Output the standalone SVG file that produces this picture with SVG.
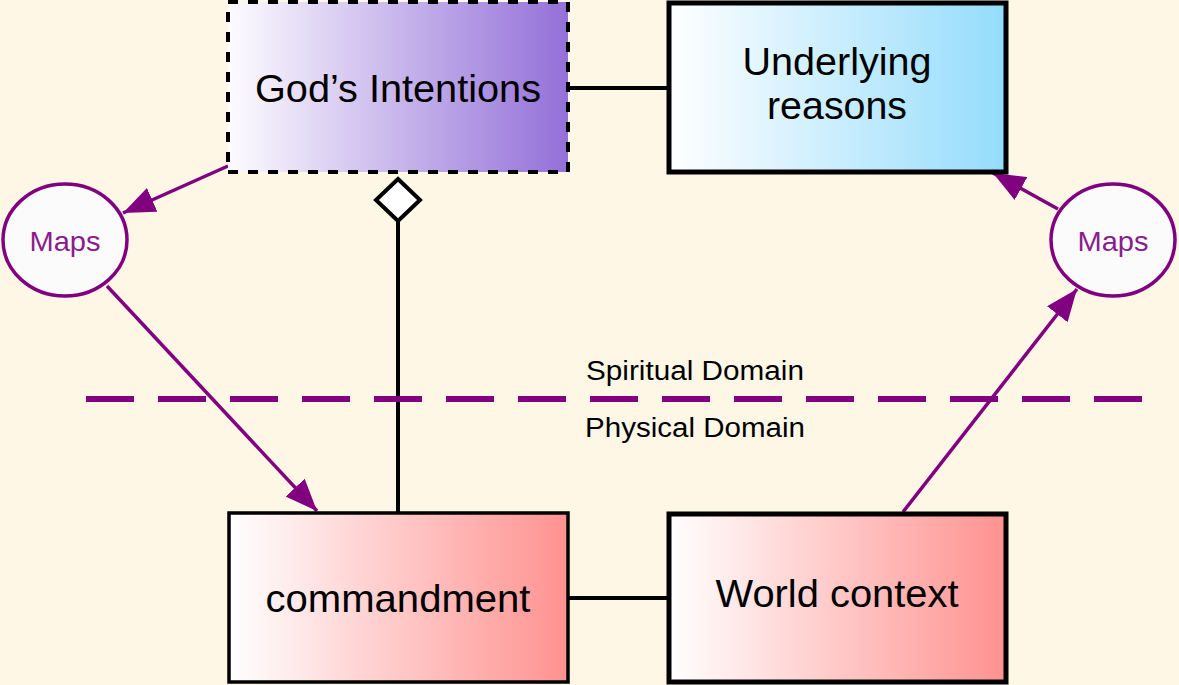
<svg xmlns="http://www.w3.org/2000/svg" width="1179" height="685" viewBox="0 0 1179 685">
<defs>
<linearGradient id="gPurple" x1="0" y1="0" x2="1" y2="0">
<stop offset="0" stop-color="#fdfcff"/>
<stop offset="1" stop-color="#9370d8"/>
</linearGradient>
<linearGradient id="gBlue" x1="0" y1="0" x2="1" y2="0">
<stop offset="0" stop-color="#ffffff"/>
<stop offset="1" stop-color="#94dcfc"/>
</linearGradient>
<linearGradient id="gRed" x1="0" y1="0" x2="1" y2="0">
<stop offset="0" stop-color="#ffffff"/>
<stop offset="1" stop-color="#ff9290"/>
</linearGradient>
<marker id="arr" viewBox="0 0 32 26" refX="32" refY="13" markerWidth="32" markerHeight="26" markerUnits="userSpaceOnUse" orient="auto">
<path d="M0,0 L32,13 L0,26 z" fill="#800080"/>
</marker>
<style>
.lbl{font-family:"Liberation Sans",Arial,sans-serif;font-size:39px;fill:#000;text-anchor:middle}
.maps{font-family:"Liberation Sans",Arial,sans-serif;font-size:28px;fill:#8b1c8b;text-anchor:middle}
.dom{font-family:"Liberation Sans",Arial,sans-serif;font-size:27px;fill:#000;text-anchor:middle}
.ell{fill:#fbfbfc;stroke:#800080;stroke-width:3.5}
.pl{stroke:#800080;stroke-width:3.5;fill:none;marker-end:url(#arr)}
.bl{stroke:#000;stroke-width:4;fill:none}
</style>
</defs>
<rect x="0" y="0" width="1179" height="685" fill="#fef7e6"/>

<g id="connectors">
<line class="bl" x1="568" y1="88" x2="668" y2="88"/>
<line class="bl" x1="568" y1="598" x2="667" y2="598"/>
<line class="bl" x1="398" y1="512" x2="398" y2="222"/>
<polygon points="398,179 420,200 398,221 376,200" fill="#fff" stroke="#000" stroke-width="4"/>
<line class="pl" x1="228" y1="166" x2="123" y2="213"/>
<line class="pl" x1="107" y1="286" x2="317" y2="511"/>
<line class="pl" x1="903" y1="512" x2="1077" y2="289"/>
<line class="pl" x1="1058" y1="209" x2="993" y2="173"/>
</g>

<g id="domain-divider">
<line x1="86" y1="399" x2="1142" y2="399" stroke="#800080" stroke-width="6" stroke-dasharray="48 24"/>
<text class="dom" x="695" y="380" textLength="218" lengthAdjust="spacingAndGlyphs">Spiritual Domain</text>
<text class="dom" x="695" y="437" textLength="220" lengthAdjust="spacingAndGlyphs">Physical Domain</text>
</g>

<g id="gods-intentions">
<rect x="228" y="2" width="340" height="170" fill="url(#gPurple)" stroke="#000" stroke-width="4" stroke-dasharray="10 10"/>
<text class="lbl" x="398" y="102" textLength="286" lengthAdjust="spacingAndGlyphs">God’s Intentions</text>
</g>

<g id="underlying-reasons">
<rect x="669" y="3" width="337" height="169" fill="url(#gBlue)" stroke="#000" stroke-width="5"/>
<text class="lbl" x="837" y="75" textLength="189" lengthAdjust="spacingAndGlyphs">Underlying</text>
<text class="lbl" x="837" y="119" textLength="140" lengthAdjust="spacingAndGlyphs">reasons</text>
</g>

<g id="maps-left">
<ellipse class="ell" cx="65" cy="240" rx="62" ry="56"/>
<text class="maps" x="65" y="251" textLength="71" lengthAdjust="spacingAndGlyphs">Maps</text>
</g>

<g id="maps-right">
<ellipse class="ell" cx="1113" cy="240" rx="62" ry="56"/>
<text class="maps" x="1113" y="251" textLength="71" lengthAdjust="spacingAndGlyphs">Maps</text>
</g>

<g id="commandment">
<rect x="229" y="513" width="339" height="169" fill="url(#gRed)" stroke="#000" stroke-width="3.5"/>
<text class="lbl" x="398" y="612" textLength="265" lengthAdjust="spacingAndGlyphs">commandment</text>
</g>

<g id="world-context">
<rect x="669" y="514" width="337" height="168" fill="url(#gRed)" stroke="#000" stroke-width="5"/>
<text class="lbl" x="837" y="607" textLength="243" lengthAdjust="spacingAndGlyphs">World context</text>
</g>
</svg>
